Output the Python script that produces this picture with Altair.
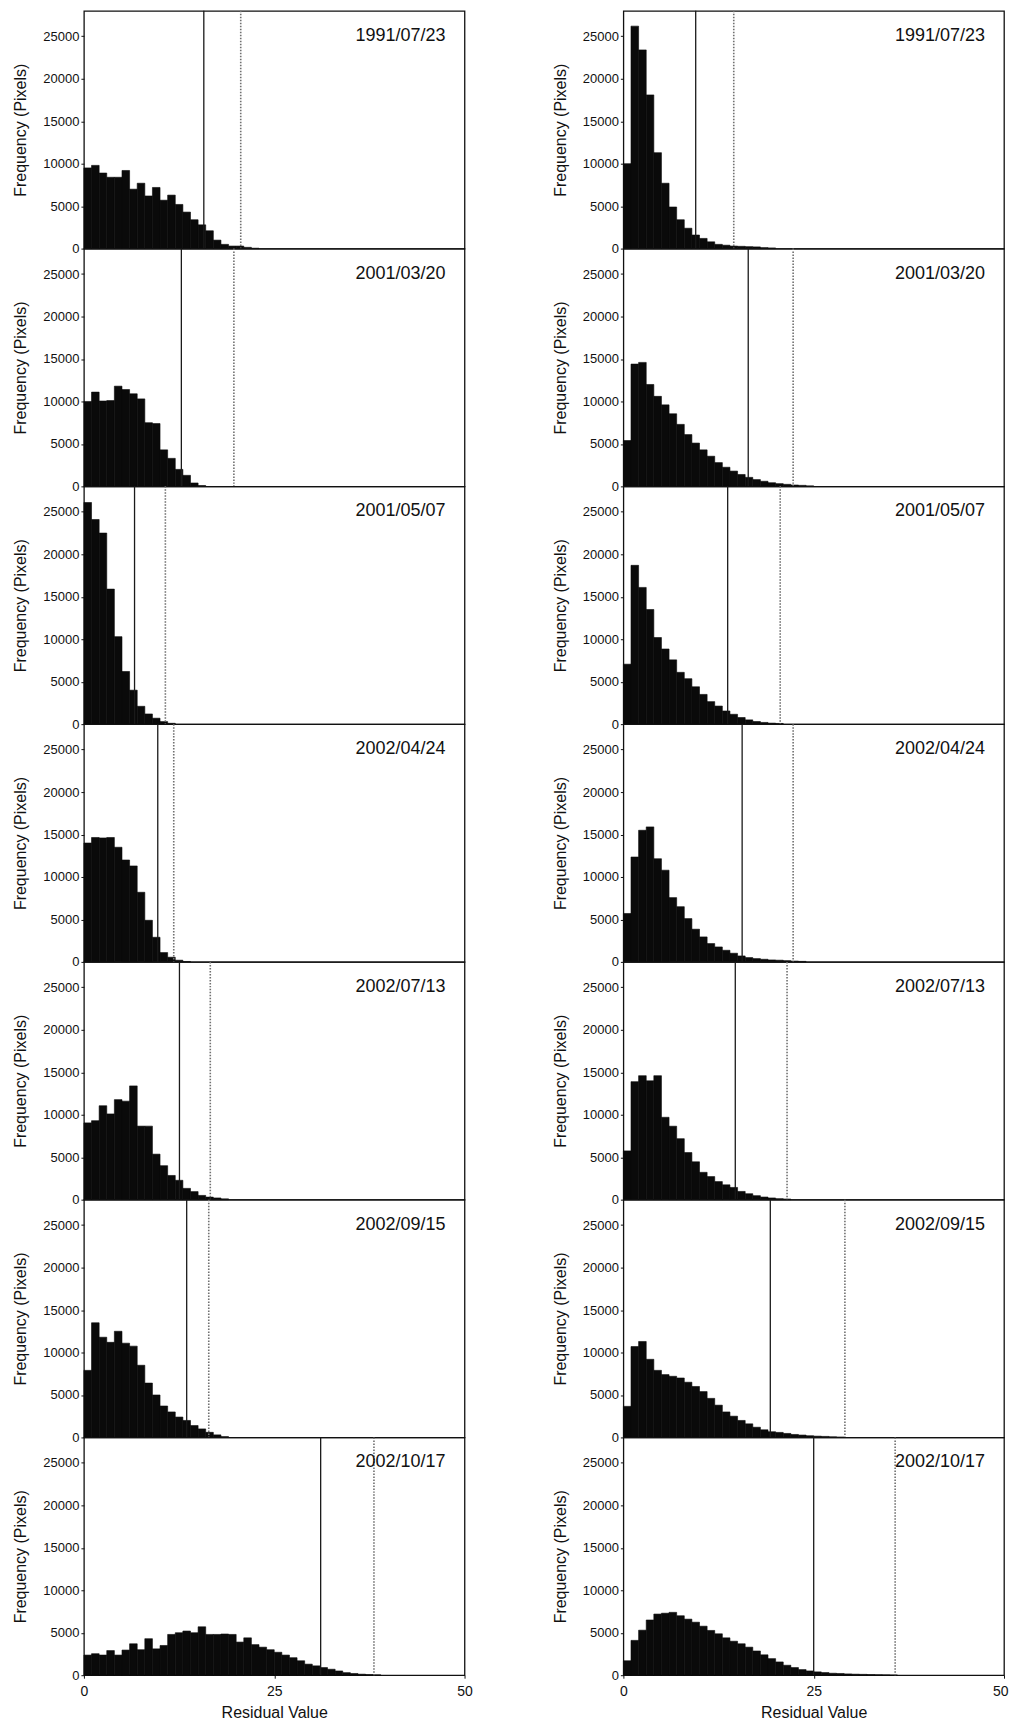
import altair as alt
import pandas as pd

FONT = "Liberation Sans"

DATES = ["1991/07/23", "2001/03/20", "2001/05/07", "2002/04/24",
         "2002/07/13", "2002/09/15", "2002/10/17"]

# Left column histograms (counts per unit bin starting at 0)
L1 = [9500, 9800, 8900, 8400, 8400, 9200, 7000, 7700, 6200, 7200, 5700, 6300, 5200, 4300,
      3400, 2800, 2100, 1000, 500, 300, 300, 150, 50]
L2 = [10000, 11100, 10050, 10100, 11800, 11400, 10900, 10300, 7500, 7400, 4300, 3300, 2000,
      1300, 400, 100]
L3 = [26100, 24100, 22500, 15900, 10300, 6200, 4000, 2100, 1200, 700, 300, 100]
L4 = [14000, 14650, 14600, 14650, 13500, 12000, 11300, 8200, 4900, 2900, 1100, 550, 200, 50]
L5 = [9040, 9300, 11060, 10100, 11780, 11600, 13400, 8660, 8660, 5360, 4000, 2850, 2280,
      1330, 950, 500, 300, 200, 100]
L6 = [7900, 13500, 11800, 11200, 12500, 11100, 10750, 8500, 6400, 5000, 3700, 3000, 2400,
      2000, 1400, 1000, 600, 300, 100]
L7 = [2370, 2530, 2370, 2900, 2370, 2960, 3700, 3000, 4300, 3100, 3500, 4800, 5000, 5200,
      5000, 5700, 4800, 4800, 4850, 4800, 3900, 4400, 3600, 3300, 3000, 2700, 2370, 2060,
      1700, 1300, 1100, 900, 700, 500, 300, 200, 120, 80, 40]
LEFT_COUNTS = [L1, L2, L3, L4, L5, L6, L7]
LEFT_SOLID = [15.75, 12.8, 6.65, 9.7, 12.55, 13.5, 31.1]
LEFT_DOTTED = [20.6, 19.7, 10.7, 11.8, 16.6, 16.4, 38.1]

# Right column histograms
R1 = [10000, 26200, 23400, 18100, 11300, 7700, 4900, 3400, 2400, 1600, 1200, 800, 500, 400,
      300, 270, 230, 200, 120, 80]
R2 = [5400, 14400, 14600, 12000, 10600, 9600, 8550, 7300, 6100, 5100, 4300, 3550, 2800, 2250,
      1800, 1400, 1060, 800, 600, 430, 320, 240, 160, 120, 60]
R3 = [7060, 18700, 16100, 13500, 10200, 8850, 7570, 6100, 5350, 4400, 3500, 2650, 2130, 1550,
      1160, 780, 500, 310, 200, 120, 80]
R4 = [5700, 12350, 15500, 15900, 12150, 10800, 7570, 6500, 5100, 3850, 2940, 2160, 1760, 1370,
      1020, 700, 510, 390, 310, 230, 200, 150, 100, 60]
R5 = [5740, 13900, 14600, 14000, 14600, 9700, 8650, 7180, 5550, 4460, 3220, 2720, 2130, 1750,
      1440, 970, 700, 470, 310, 200, 120, 80]
R6 = [3660, 10700, 11300, 9200, 7900, 7400, 7200, 7000, 6500, 6000, 5400, 4600, 3800, 3000,
      2500, 2000, 1600, 1200, 900, 670, 590, 470, 350, 280, 200, 150, 120, 80, 50]
R7 = [1700, 4100, 5300, 6500, 7200, 7300, 7400, 7000, 6600, 6240, 5770, 5270, 4875, 4400,
      4000, 3700, 3300, 2850, 2400, 1950, 1560, 1170, 900, 660, 500, 390, 310, 230, 200, 150,
      120, 100, 80, 60, 40, 20]
RIGHT_COUNTS = [R1, R2, R3, R4, R5, R6, R7]
RIGHT_SOLID = [9.5, 16.4, 13.7, 15.6, 14.7, 19.3, 25.0]
RIGHT_DOTTED = [14.5, 22.3, 20.6, 22.3, 21.5, 29.1, 35.7]

Y_TICKS = [0, 5000, 10000, 15000, 20000, 25000]
X_TICKS = [0, 25, 50]
X_DOMAIN = [0, 50]
Y_DOMAIN = [0, 28000]

W = 381
H = 238


def panel(counts, solid, dotted, date, bottom, flush):
    df = pd.DataFrame({"start": list(range(len(counts))), "count": counts})
    df["end"] = df["start"] + 1
    df["base"] = 0
    xscale = alt.Scale(domain=X_DOMAIN, nice=False, zero=False)
    yscale = alt.Scale(domain=Y_DOMAIN, nice=False)
    if bottom:
        xaxis = alt.Axis(values=X_TICKS, title="Residual Value", labelFlush=flush,
                         labelFlushOffset=4, tickSize=3, labelPadding=6, titlePadding=6,
                         format="d", labelFontSize=14, titleFontSize=16,
                         labelFont=FONT, titleFont=FONT, labelColor="#111111",
                         titleColor="#111111", tickColor="#111111",
                         titleFontWeight="normal", grid=False, domain=False)
    else:
        xaxis = None
    yaxis = alt.Axis(values=Y_TICKS, title="Frequency (Pixels)", tickSize=3,
                     labelPadding=2, titlePadding=14, format="d",
                     labelFontSize=13, titleFontSize=16, titleFontWeight="normal",
                     labelFont=FONT, titleFont=FONT, labelColor="#111111",
                     titleColor="#111111", tickColor="#111111",
                     grid=False, domain=False)
    bars = alt.Chart(df).mark_bar(color="#0a0a0a", stroke="#0a0a0a", strokeWidth=0.6).encode(
        x=alt.X("start:Q", scale=xscale, axis=xaxis),
        x2="end:Q",
        y=alt.Y("count:Q", scale=yscale, axis=yaxis),
        y2="base:Q",
    )
    solid_rule = alt.Chart(pd.DataFrame({"v": [solid]})).mark_rule(
        color="#1a1a1a", strokeWidth=1.3).encode(
        x=alt.X("v:Q", scale=xscale, axis=xaxis))
    dotted_rule = alt.Chart(pd.DataFrame({"v": [dotted]})).mark_rule(
        color="#707070", strokeWidth=1.6, strokeDash=[1.5, 1.5]).encode(
        x=alt.X("v:Q", scale=xscale, axis=xaxis))
    label = alt.Chart(pd.DataFrame({"t": [date]})).mark_text(
        align="right", baseline="alphabetic", fontSize=18, font=FONT, color="#111111").encode(
        x=alt.value(W - 19), y=alt.value(30), text="t:N")
    return alt.layer(bars, solid_rule, dotted_rule, label).properties(width=W, height=H)


left = alt.vconcat(*[
    panel(LEFT_COUNTS[i], LEFT_SOLID[i], LEFT_DOTTED[i], DATES[i], i == 6, False)
    for i in range(7)
], spacing=0, bounds="flush")
right = alt.vconcat(*[
    panel(RIGHT_COUNTS[i], RIGHT_SOLID[i], RIGHT_DOTTED[i], DATES[i], i == 6, True)
    for i in range(7)
], spacing=0, bounds="flush")

chart = alt.hconcat(left, right, spacing=78).properties(
    padding={"left": 12, "top": 8, "right": 0, "bottom": 0},
    background="white",
).configure_view(
    stroke="#111111", strokeWidth=1.3
).configure_axis(
    labelFont=FONT, titleFont=FONT, labelColor="#111111", titleColor="#111111",
    titleFontWeight="normal", domain=False, grid=False, tickColor="#111111"
)

chart.save("out.html", embed_options={"renderer": "svg", "actions": False})
